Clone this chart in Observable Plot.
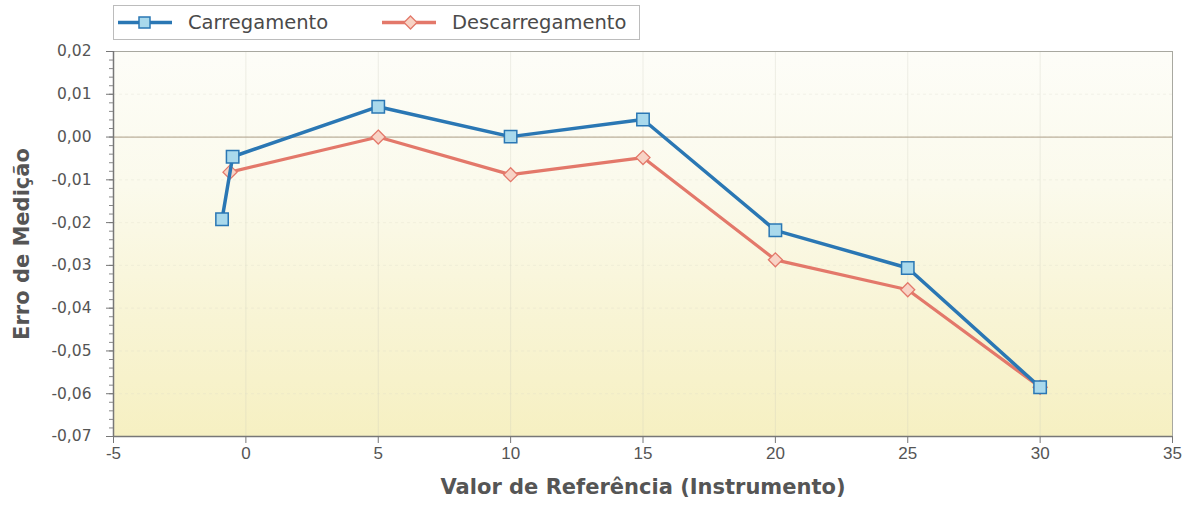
<!DOCTYPE html>
<html><head><meta charset="utf-8">
<script src="https://cdn.jsdelivr.net/npm/d3@7"></script>
<script src="https://cdn.jsdelivr.net/npm/@observablehq/plot@0.6"></script>
<style>
body{margin:0;background:#fff;font-family:"DejaVu Sans","Liberation Sans",Arial,sans-serif;}
#wrap{position:relative;width:1193px;height:507px;overflow:hidden;}
#legend{position:absolute;left:113px;top:5px;width:525px;height:33px;border:1px solid #bcbcbc;background:#fff;font-size:19.5px;color:#4a4a4a;}
#legend .item{position:absolute;top:0;height:33px;display:flex;align-items:center;}
#legend svg{margin-right:16px;}
#chart{position:absolute;left:0;top:42px;}
</style></head><body>
<div id="wrap"><div id="legend"></div><div id="chart"></div></div>
<script>
// ---- data ----
const seriesNames = ["Carregamento", "Descarregamento"];
const refCarga = [-0.9, -0.5, 5, 10, 15, 20, 25, 30];
const erroCarga = [-0.0192, -0.0046, 0.0071, 0.0001, 0.0041, -0.0218, -0.0306, -0.0585];
const refDescarga = [-0.6, 5, 10, 15, 20, 25, 30];
const erroDescarga = [-0.0082, 0.0000, -0.0088, -0.0048, -0.0287, -0.0357, -0.0585];
const xTicks = [-5, 0, 5, 10, 15, 20, 25, 30, 35];
const xTickLabels = ["-5", "0", "5", "10", "15", "20", "25", "30", "35"];
const yTicks = [0.02, 0.01, 0.00, -0.01, -0.02, -0.03, -0.04, -0.05, -0.06, -0.07];
const yTickLabels = ["0,02", "0,01", "0,00", "-0,01", "-0,02", "-0,03", "-0,04", "-0,05", "-0,06", "-0,07"];
const xLabel = "Valor de Referência (Instrumento)";
const yLabel = "Erro de Medição";

const carga = refCarga.map((x, i) => ({x, y: erroCarga[i]}));
const descarga = refDescarga.map((x, i) => ({x, y: erroDescarga[i]}));
const yTickData = yTicks.map((v, i) => ({v, label: yTickLabels[i]}));
const xTickData = xTicks.map((v, i) => ({v, label: xTickLabels[i]}));
const yMinor = d3.range(-70, 21, 2).map(v => v / 1000);

const blue = "#2a77b4", blueFill = "#a9d9ec";
const red = "#e3786a", redFill = "#f8d3c5";
const wide = "DejaVu Sans";
const base = "Liberation Sans";

const chart = Plot.plot({
  width: 1193, height: 465,
  marginLeft: 113, marginRight: 21, marginTop: 9, marginBottom: 71,
  x: {domain: [-5, 35]},
  y: {domain: [-0.07, 0.02]},
  style: {fontFamily: "'Liberation Sans', Arial, sans-serif", color: "#555", background: "transparent"},
  marks: [
    Plot.frame({fill: "url(#bgGrad)", stroke: "none"}),
    Plot.gridX(xTicks.slice(1, -1), {stroke: "#c9c9b8", strokeOpacity: 0.3}),
    Plot.gridY(yTicks, {stroke: "#d8d8c8", strokeOpacity: 0.25, strokeDasharray: "3,3"}),
    Plot.ruleY([0], {stroke: "#bcb09c", strokeWidth: 1.2}),
    Plot.frame({stroke: "#a8a8a0", strokeWidth: 1}),
    Plot.ruleX([-5], {stroke: "#777", strokeWidth: 1.5}),
    Plot.ruleY([-0.07], {stroke: "#777", strokeWidth: 1.5}),
    Plot.axisY({ticks: yMinor, tickSize: 4, tickFormat: () => "", stroke: "#888", label: null}),
    Plot.axisY({ticks: yTicks, tickSize: 7, tickFormat: () => "", stroke: "#777", label: null}),
    Plot.axisX({ticks: xTicks, tickSize: 7, tickFormat: () => "", stroke: "#777", label: null}),
    Plot.text(yTickData, {x: () => -5, y: "v", text: "label", textAnchor: "end", dx: -22, fontSize: 15.5, fontFamily: wide, fill: "#555"}),
    Plot.text(xTickData, {x: "v", y: () => -0.07, text: "label", dy: 17, fontSize: 17, fontFamily: base, fill: "#555"}),
    Plot.text([xLabel], {frameAnchor: "bottom", dy: 57, fontSize: 21, fontFamily: wide, fontWeight: "bold", fill: "#555"}),
    Plot.text([yLabel], {frameAnchor: "left", textAnchor: "middle", dx: -91, rotate: -90, fontSize: 21, fontFamily: wide, fontWeight: "bold", fill: "#555"}),
    Plot.line(descarga, {x: "x", y: "y", stroke: red, strokeWidth: 3.2}),
    Plot.dot(descarga, {x: "x", y: "y", symbol: "diamond2", r: 6.3, fill: redFill, stroke: red, strokeWidth: 1.3}),
    Plot.line(carga, {x: "x", y: "y", stroke: blue, strokeWidth: 3.5}),
    Plot.dot(carga, {x: "x", y: "y", symbol: "square", r: 7, fill: blueFill, stroke: blue, strokeWidth: 1.5})
  ]
});

// gradient background
const svg = d3.select(chart);
const defs = svg.insert("defs", ":first-child");
const g = defs.append("linearGradient").attr("id", "bgGrad").attr("x1", 0).attr("y1", 0).attr("x2", 0).attr("y2", 1);
g.append("stop").attr("offset", "0%").attr("stop-color", "#fdfdf8");
g.append("stop").attr("offset", "35%").attr("stop-color", "#fbfaec");
g.append("stop").attr("offset", "70%").attr("stop-color", "#f8f4d4");
g.append("stop").attr("offset", "100%").attr("stop-color", "#f6f0c2");
document.getElementById("chart").appendChild(chart);

// legend
const legend = document.getElementById("legend");
const items = [
  {name: seriesNames[0], left: 4, stroke: blue, fill: blueFill, shape: "square"},
  {name: seriesNames[1], left: 268, stroke: red, fill: redFill, shape: "diamond"}
];
for (const it of items) {
  const div = document.createElement("div");
  div.className = "item";
  div.style.left = it.left + "px";
  const marker = it.shape === "square"
    ? `<rect x="21" y="10" width="11" height="11" fill="${it.fill}" stroke="${it.stroke}" stroke-width="1.5"/>`
    : `<path d="M28.5,9 L35,15.5 L28.5,22 L22,15.5Z" fill="${it.fill}" stroke="${it.stroke}" stroke-width="1.3"/>`;
  div.innerHTML = `<svg width="54" height="31"><line x1="0" y1="15.5" x2="54" y2="15.5" stroke="${it.stroke}" stroke-width="3.5"/>${marker}</svg><span>${it.name}</span>`;
  legend.appendChild(div);
}
</script>
</body></html>
